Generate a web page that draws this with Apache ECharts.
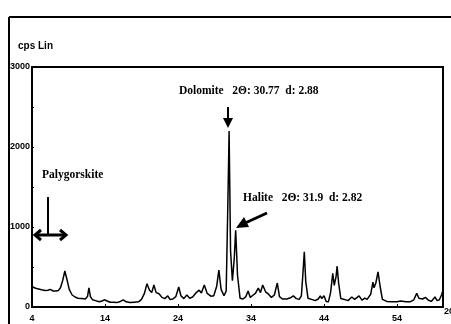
<!DOCTYPE html>
<html>
<head>
<meta charset="utf-8">
<script src="https://cdn.jsdelivr.net/npm/echarts@6/dist/echarts.min.js"></script>
<style>
  html, body { margin: 0; padding: 0; background: #fff; }
  #chart { width: 451px; height: 324px; }
</style>
</head>
<body>
<div id="chart"></div>
<script>
// XRD scan: 2-theta (deg) and intensity (cps)
const twoTheta = [
  4.1, 4.5, 4.9, 5.3, 5.5, 5.8, 6.2, 6.5, 6.9, 7.3, 7.6, 7.9, 8.2, 8.5, 8.8, 9.1, 9.5, 9.9,
  10.3, 10.8, 11.3, 11.6, 11.8, 12.0, 12.3, 12.7, 13.2, 13.6, 13.9, 14.3, 14.7, 15.2, 15.6,
  16.0, 16.5, 16.9, 17.4, 18.0, 18.6, 19.0, 19.4, 19.75, 20.1, 20.4, 20.7, 21.0, 21.4, 21.8,
  22.2, 22.6, 22.9, 23.3, 23.7, 24.1, 24.4, 24.8, 25.2, 25.6, 26.0, 26.5, 26.9, 27.2, 27.6,
  28.0, 28.5, 28.9, 29.3, 29.6, 29.9, 30.3, 30.6, 30.85, 31.0, 31.2, 31.45, 31.7, 31.9, 32.15,
  32.5, 32.9, 33.3, 33.6, 33.9, 34.3, 34.6, 35.0, 35.3, 35.6, 36.0, 36.4, 36.8, 37.2, 37.6,
  37.9, 38.3, 38.9, 39.4, 39.8, 40.2, 40.6, 40.9, 41.1, 41.3, 41.5, 41.8, 42.3, 42.8, 43.2,
  43.5, 43.7, 44.0, 44.3, 44.6, 44.9, 45.2, 45.4, 45.65, 45.8, 46.0, 46.3, 46.8, 47.3, 47.8,
  48.2, 48.8, 49.2, 49.6, 49.9, 50.4, 50.7, 50.85, 51.1, 51.4, 51.7, 52.0, 52.6, 53.3, 54.0,
  54.5, 55.2, 55.8, 56.3, 56.7, 57.0, 57.5, 57.9, 58.3, 58.7, 59.2, 59.5, 59.8, 60.1, 60.3
]
const counts = [
  250, 235, 225, 215, 220, 205, 210, 220, 200, 200, 205, 240, 330, 450, 340, 220, 150, 125,
  110, 105, 100, 130, 240, 130, 90, 80, 65, 75, 90, 75, 60, 60, 55,
  65, 90, 65, 55, 60, 65, 95, 170, 290, 210, 180, 275, 180, 165, 120,
  105, 140, 95, 100, 130, 250, 140, 105, 150, 110, 125, 180, 210, 175, 275,
  170, 135, 140, 260, 460, 220, 140, 200, 1400, 2200, 700, 330, 600, 960, 400,
  110, 100, 130, 200, 120, 150, 170, 235, 180, 275, 190, 160, 120, 150, 300,
  130, 100, 100, 115, 140, 105, 95, 140, 400, 690, 320, 110, 95, 80, 100,
  140, 105, 140, 70, 65, 180, 420, 270, 380, 510, 300, 105, 95, 80, 125,
  95, 140, 85, 110, 95, 160, 310, 240, 300, 440, 250, 95, 70, 65, 65,
  75, 65, 65, 90, 170, 110, 100, 120, 85, 70, 125, 80, 90, 150, 210
]
const yTicks = [0, 1000, 2000, 3000]
const xTicks = [4, 14, 24, 34, 44, 54]

const labelFont = '"Liberation Sans Narrow", "Liberation Sans", Arial, sans-serif'
const noteFont = '"Liberation Serif", "Times New Roman", serif'

const chart = echarts.init(document.getElementById("chart"))

const noteText = (left, top, text) => ({
  type: "text",
  left: left,
  top: top,
  style: { text: text, font: "bold 11.5px " + noteFont, fill: "#000" }
})

const option = {
  animation: false,
  grid: {
    left: 32,
    right: 8,
    top: 67,
    bottom: 17,
    show: true,
    borderColor: "#000",
    borderWidth: 2
  },
  xAxis: {
    type: "value",
    min: 4,
    max: 60.3,
    interval: 10,
    axisLine: { onZero: false, lineStyle: { color: "#000", width: 2 } },
    axisTick: { inside: true, length: 3, lineStyle: { color: "#000" } },
    splitLine: { show: false },
    axisLabel: {
      color: "#000",
      fontFamily: labelFont,
      fontWeight: "bold",
      fontSize: 9,
      margin: 7,
      showMaxLabel: false,
      formatter: (v) => (xTicks.includes(v) ? String(v) : "")
    }
  },
  yAxis: {
    type: "value",
    min: 0,
    max: 3000,
    interval: 1000,
    axisLine: { show: true, lineStyle: { color: "#000", width: 2 } },
    axisTick: { inside: true, length: 2, lineStyle: { color: "#000" } },
    minorTick: { show: true, splitNumber: 2, length: 2, lineStyle: { color: "#000" } },
    splitLine: { show: false },
    axisLabel: {
      color: "#000",
      fontFamily: labelFont,
      fontWeight: "bold",
      fontSize: 9,
      margin: 2,
      formatter: (v) => (yTicks.includes(v) ? String(v) : "")
    }
  },
  series: [
    {
      type: "line",
      data: twoTheta.map((t, i) => [t, counts[i]]),
      showSymbol: false,
      lineStyle: { color: "#000", width: 1.5 }
    }
  ],
  graphic: [
    // outer frame
    { type: "line", shape: { x1: 9, y1: 17, x2: 451, y2: 17 }, style: { stroke: "#000", lineWidth: 2 } },
    { type: "line", shape: { x1: 9, y1: 17, x2: 9, y2: 324 }, style: { stroke: "#000", lineWidth: 2 } },
    {
      type: "text",
      left: 18,
      top: 41,
      style: { text: "cps Lin", font: "bold 10px " + labelFont, fill: "#000" }
    },
    {
      type: "text",
      left: 444,
      top: 307,
      style: { text: "20", font: "bold 9px " + labelFont, fill: "#000" }
    },
    // Dolomite
    noteText(179, 85, "Dolomite   2Θ: 30.77  d: 2.88"),
    { type: "line", shape: { x1: 228, y1: 107, x2: 228, y2: 120 }, style: { stroke: "#000", lineWidth: 2 } },
    { type: "polygon", shape: { points: [[223, 118], [233, 118], [228, 128]] }, style: { fill: "#000" } },
    // Halite
    noteText(243, 192, "Halite   2Θ: 31.9  d: 2.82"),
    { type: "line", shape: { x1: 267, y1: 213, x2: 243, y2: 224 }, style: { stroke: "#000", lineWidth: 3 } },
    { type: "polygon", shape: { points: [[236, 228], [244, 217], [249, 227]] }, style: { fill: "#000" } },
    // Palygorskite
    noteText(42, 169, "Palygorskite"),
    { type: "line", shape: { x1: 48, y1: 197, x2: 48, y2: 234 }, style: { stroke: "#000", lineWidth: 2 } },
    { type: "line", shape: { x1: 37, y1: 235, x2: 64, y2: 235 }, style: { stroke: "#000", lineWidth: 3 } },
    { type: "polyline", shape: { points: [[41, 230], [35, 235], [41, 240]] }, style: { stroke: "#000", lineWidth: 3, fill: null } },
    { type: "polyline", shape: { points: [[60, 230], [66, 235], [60, 240]] }, style: { stroke: "#000", lineWidth: 3, fill: null } }
  ]
}

chart.setOption(option)

window.addEventListener("resize", () => chart.resize())
</script>
</body>
</html>
